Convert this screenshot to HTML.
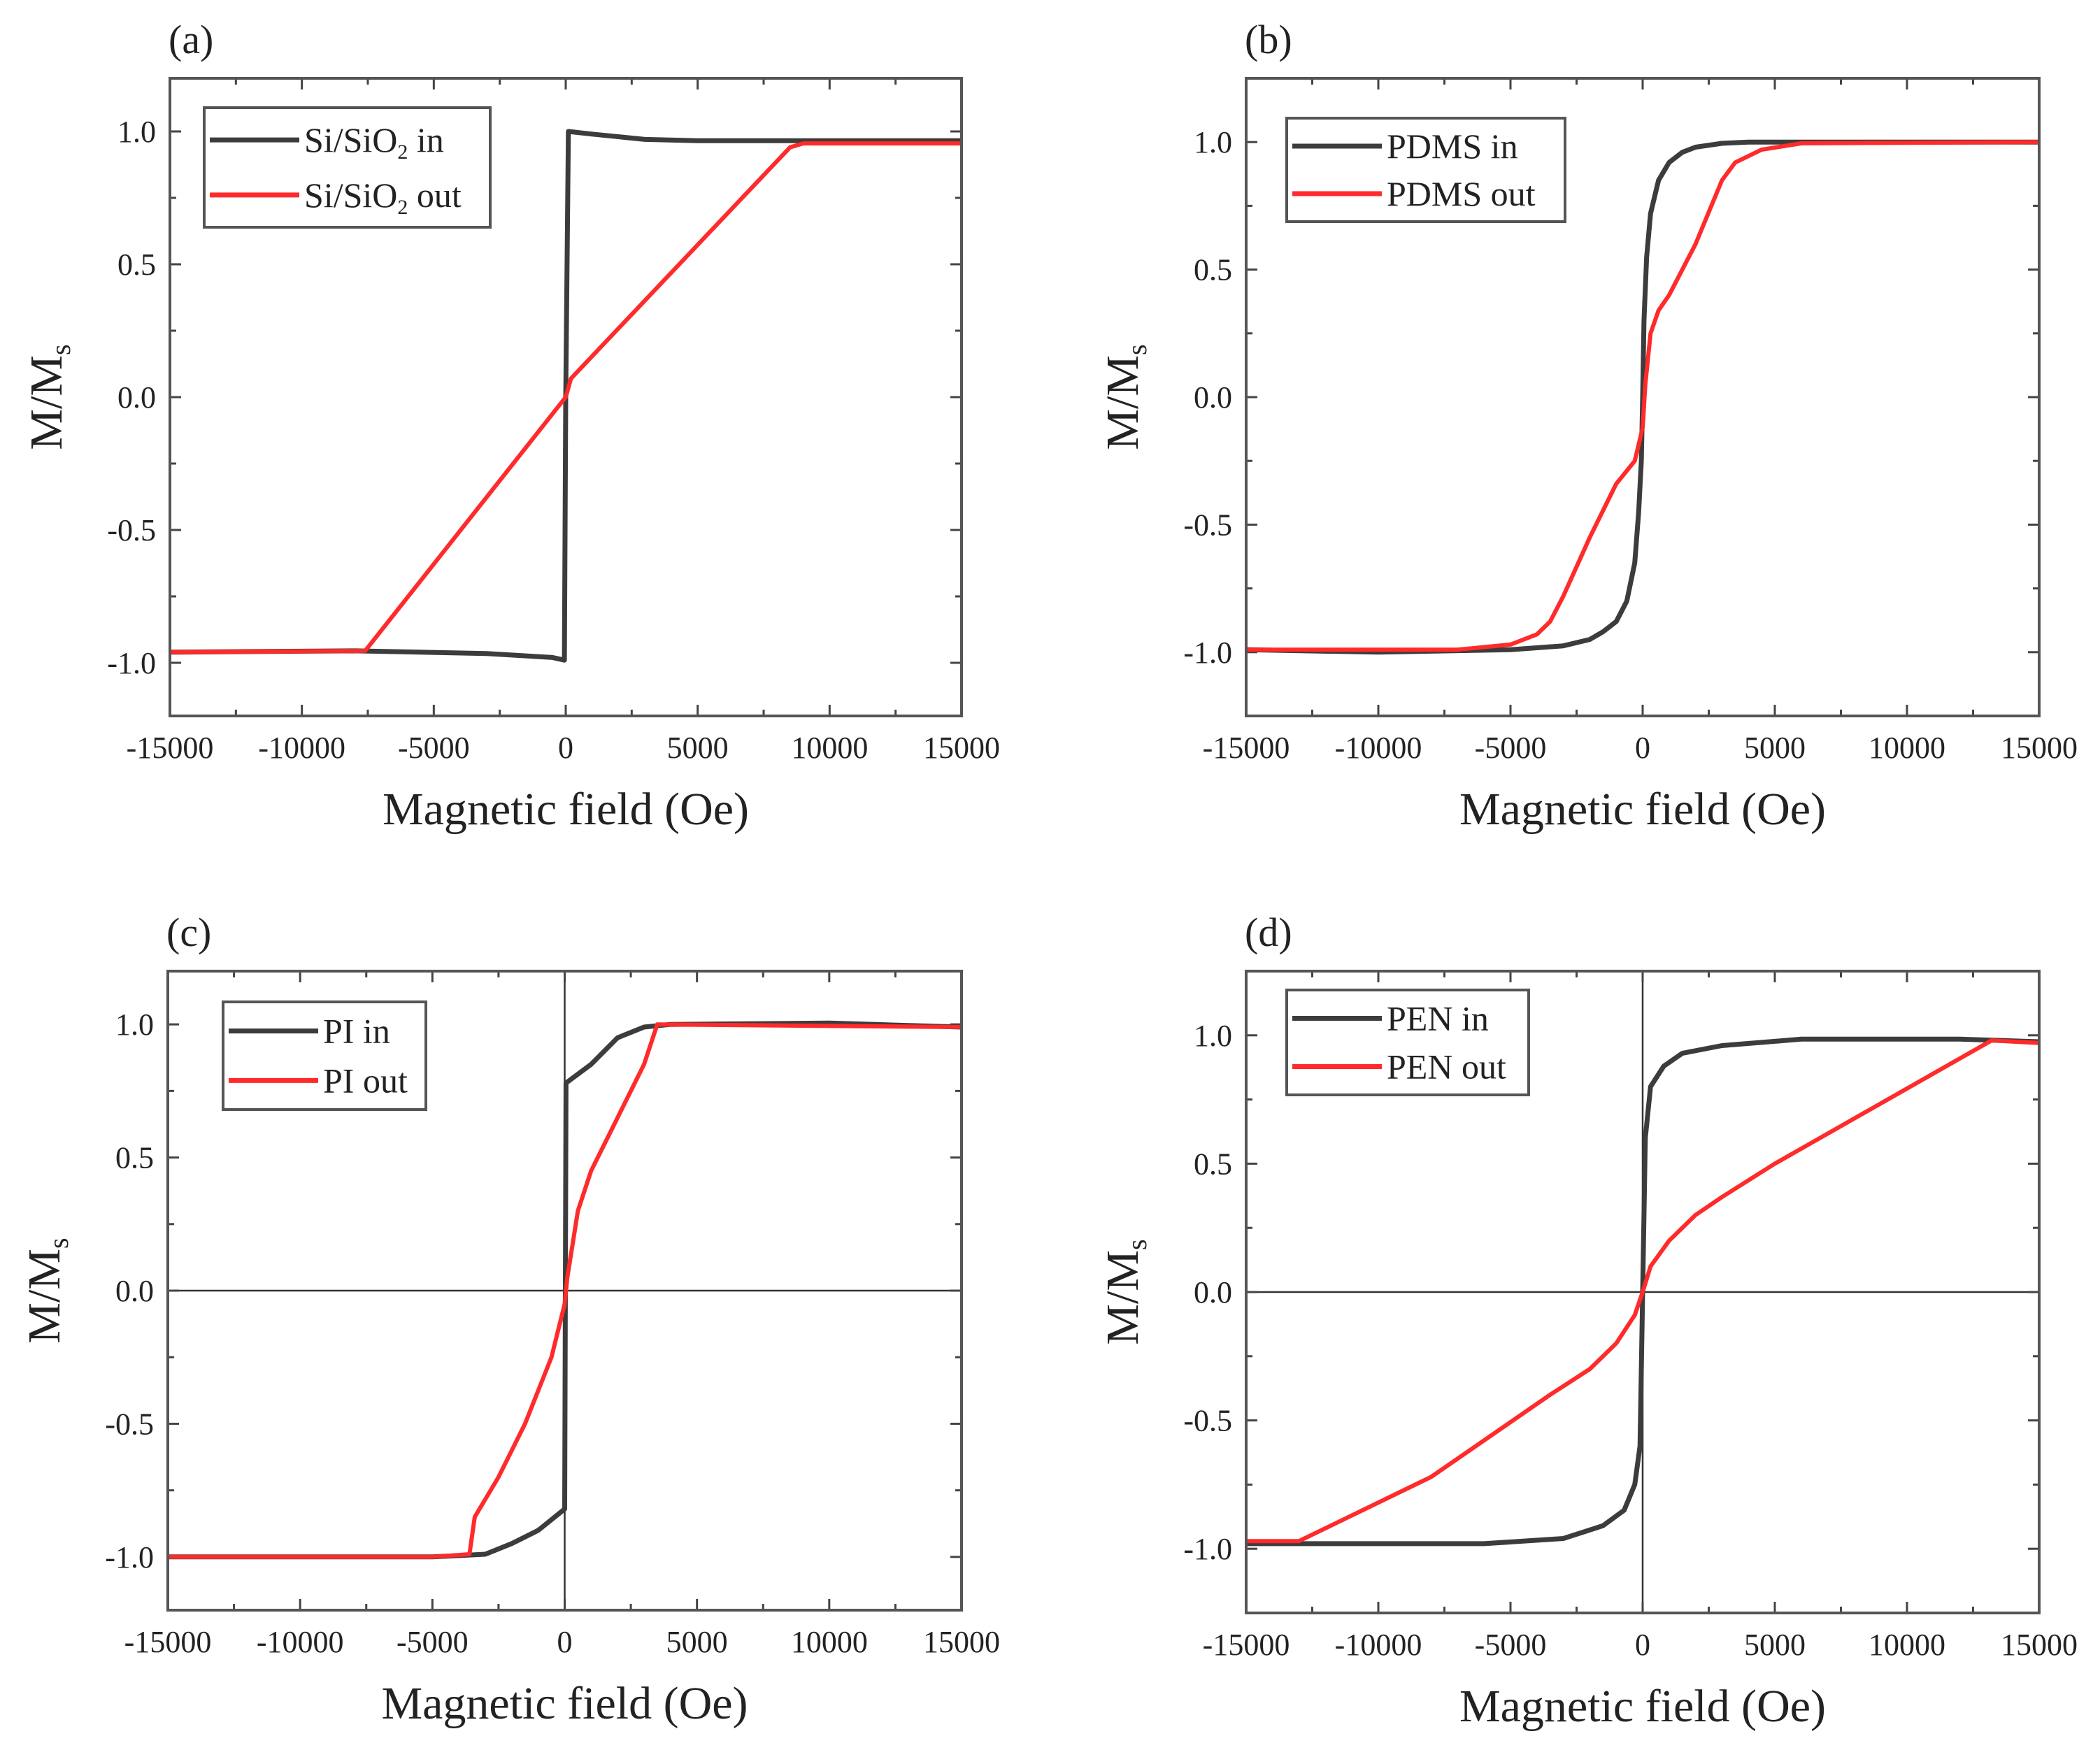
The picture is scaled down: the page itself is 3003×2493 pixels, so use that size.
<!DOCTYPE html>
<html><head><meta charset="utf-8"><style>
html,body{margin:0;padding:0;background:#fff;}
svg{display:block;font-family:"Liberation Serif",serif;}
</style></head><body>
<svg id="fig" width="3003" height="2493" viewBox="0 0 3003 2493" xmlns="http://www.w3.org/2000/svg"></svg>
<script>
// ---- data arrays ----
const xTicks = [-15000,-10000,-5000,0,5000,10000,15000];
const xTickLabels = ["-15000","-10000","-5000","0","5000","10000","15000"];
const yTicks = [-1.0,-0.5,0.0,0.5,1.0];
const yTickLabels = ["-1.0","-0.5","0.0","0.5","1.0"];

const aInX = [-15000,-8000,-3000,-500,-50,0,100,1000,3000,5000,15000];
const aInY = [-0.96,-0.955,-0.965,-0.98,-0.99,0.0,1.0,0.99,0.97,0.965,0.965];
const aOutX = [-15000,-7600,0,200,8500,9000,15000];
const aOutY = [-0.96,-0.955,0.0,0.07,0.94,0.955,0.955];

const bInX = [-15000,-10000,-5000,-3000,-2000,-1500,-1000,-600,-300,-150,-50,0,50,150,300,600,1000,1500,2000,3000,4000,15000];
const bInY = [-0.99,-1.0,-0.99,-0.975,-0.95,-0.92,-0.88,-0.8,-0.65,-0.45,-0.25,0,0.3,0.55,0.72,0.85,0.92,0.96,0.98,0.995,1.0,1.0];
const bOutX = [-15000,-7000,-5000,-4000,-3500,-3000,-2000,-1000,-300,0,100,300,600,1000,2000,3000,3500,4500,6000,15000];
const bOutY = [-0.99,-0.99,-0.97,-0.93,-0.88,-0.78,-0.55,-0.34,-0.25,-0.12,0.05,0.25,0.34,0.4,0.6,0.85,0.92,0.97,0.995,1.0];

const cInX = [-15000,-5000,-3000,-2000,-1000,0,50,1000,2000,3000,4000,10000,15000];
const cInY = [-1.0,-1.0,-0.99,-0.95,-0.9,-0.82,0.78,0.85,0.95,0.99,1.0,1.005,0.99];
const cOutX = [-15000,-5000,-3600,-3400,-2500,-1500,-500,0,100,500,1000,2000,3000,3500,15000];
const cOutY = [-1.0,-1.0,-0.99,-0.85,-0.7,-0.5,-0.25,-0.05,0.05,0.3,0.45,0.65,0.85,1.0,0.99];

const dInX = [-15000,-13000,-6000,-3000,-1500,-700,-300,-100,0,100,300,800,1500,3000,6000,12000,15000];
const dInY = [-0.98,-0.98,-0.98,-0.96,-0.91,-0.85,-0.75,-0.6,0,0.6,0.8,0.88,0.93,0.96,0.985,0.985,0.975];
const dOutX = [-15000,-13000,-8000,-3500,-2000,-1000,-300,0,300,1000,2000,3000,5000,13200,15000];
const dOutY = [-0.97,-0.97,-0.72,-0.4,-0.3,-0.2,-0.09,0,0.1,0.2,0.3,0.37,0.5,0.98,0.97];

const svg = document.getElementById('fig');
const NS = 'http://www.w3.org/2000/svg';
function mk(tag, attrs, parent){const e=document.createElementNS(NS,tag);for(const k in attrs)e.setAttribute(k,attrs[k]);(parent||svg).appendChild(e);return e;}

const panels = [
 {id:'a',L:243,R:1375,T:112,B:1024,ymax:1.2,inX:aInX,inY:aInY,outX:aOutX,outY:aOutY,zero:false,
  leg:[292,154,409,171],names:['Si/SiO','2',' in','Si/SiO','2',' out']},
 {id:'b',L:1782,R:2916,T:112,B:1024,ymax:1.25,inX:bInX,inY:bInY,outX:bOutX,outY:bOutY,zero:false,
  leg:[1840,169,398,148],names:['PDMS in','','','PDMS out','','']},
 {id:'c',L:240,R:1375,T:1389,B:2303,ymax:1.2,inX:cInX,inY:cInY,outX:cOutX,outY:cOutY,zero:true,
  leg:[319,1433,290,154],names:['PI in','','','PI out','','']},
 {id:'d',L:1782,R:2916,T:1389,B:2307,ymax:1.25,inX:dInX,inY:dInY,outX:dOutX,outY:dOutY,zero:true,
  leg:[1840,1416,346,150],names:['PEN in','','','PEN out','','']}
];

panels.forEach(p=>{
  const g = mk('g',{});
  
  
  const sx = v => p.L + (v+15000)/30000*(p.R-p.L);
  const sy = v => (p.T+p.B)/2 - v/(2*p.ymax)*(p.B-p.T);
  const lab = mk('text',{x:p.L-2,y:p.T-36,'font-size':58,fill:'#222'},g);
  lab.textContent='('+p.id+')';
  
  
  if(p.zero){
    const z1=mk('line',{x1:sx(0),x2:sx(0),y1:p.T,y2:p.B,stroke:'#333','stroke-width':2.5},g);
    
    
    const z2=mk('line',{x1:p.L,x2:p.R,y1:sy(0),y2:sy(0),stroke:'#333','stroke-width':2.5},g);
    
    
  }
  for(let v=-15000; v<=15000; v+=2500){
    const major = v%5000===0; const len = major?16:9;
    mk('line',{x1:sx(v),x2:sx(v),y1:p.B,y2:p.B-len,stroke:'#444','stroke-width':3},g);
    mk('line',{x1:sx(v),x2:sx(v),y1:p.T,y2:p.T+len,stroke:'#444','stroke-width':3},g);
  }
  for(let i=-4;i<=4;i++){
    const v=i*0.25; const major=i%2===0; const len=major?16:9;
    mk('line',{x1:p.L,x2:p.L+len,y1:sy(v),y2:sy(v),stroke:'#444','stroke-width':3},g);
    mk('line',{x1:p.R,x2:p.R-len,y1:sy(v),y2:sy(v),stroke:'#444','stroke-width':3},g);
  }
  xTicks.forEach((v,i)=>{
    const t=mk('text',{x:sx(v),y:p.B+60,'font-size':44,'text-anchor':'middle',fill:'#222'},g);
    t.textContent=xTickLabels[i];
    
    
  });
  yTicks.forEach((v,i)=>{
    const t=mk('text',{x:p.L-20,y:sy(v)+15,'font-size':44,'text-anchor':'end',fill:'#222'},g);
    t.textContent=yTickLabels[i];
    
    
  });
  const xt=mk('text',{x:(p.L+p.R)/2,y:p.B+155,'font-size':66,'text-anchor':'middle',fill:'#222'},g);
  xt.textContent='Magnetic field (Oe)';
  
  
  const cy=(p.T+p.B)/2, cx=p.L-155;
  const yt=mk('text',{x:cx,y:cy,'font-size':66,'text-anchor':'middle',fill:'#222',transform:`rotate(-90 ${cx} ${cy})`},g);
  yt.innerHTML='M/M<tspan font-size="40" dy="12">s</tspan>';
  
  
  const pts=(X,Y)=>X.map((x,i)=>sx(x).toFixed(1)+','+sy(Y[i]).toFixed(1)).join(' ');
  const s1=mk('polyline',{points:pts(p.inX,p.inY),fill:'none',stroke:'#3c3c3c','stroke-width':7,'stroke-linejoin':'round'},g);
  
  
  const s2=mk('polyline',{points:pts(p.outX,p.outY),fill:'none',stroke:'#ff2b2b','stroke-width':6,'stroke-linejoin':'round'},g);
  
  
  const fr=mk('rect',{x:p.L,y:p.T,width:p.R-p.L,height:p.B-p.T,fill:'none',stroke:'#555','stroke-width':4},g);
  
  
  const [lx,ly,lw,lh]=p.leg;
  const lg=mk('g',{},g);
  
  
  mk('rect',{x:lx,y:ly,width:lw,height:lh,fill:'#fff',stroke:'#555','stroke-width':4},lg);
  const rows=[[ly+lh*0.27,'#3c3c3c',0],[ly+lh*0.73,'#ff2b2b',3]];
  rows.forEach(r=>{
    const e=mk('g',{},lg);
    
    
    mk('line',{x1:lx+8,x2:lx+136,y1:r[0],y2:r[0],stroke:r[1],'stroke-width':7},e);
    const t=mk('text',{x:lx+143,y:r[0]+17,'font-size':50,fill:'#222'},e);
    const n=p.names;
    if(n[r[2]+1]) t.innerHTML=n[r[2]]+'<tspan font-size="30" dy="10">'+n[r[2]+1]+'</tspan><tspan dy="-10">'+n[r[2]+2]+'</tspan>';
    else t.textContent=n[r[2]];
  });
});
</script>
</body></html>
